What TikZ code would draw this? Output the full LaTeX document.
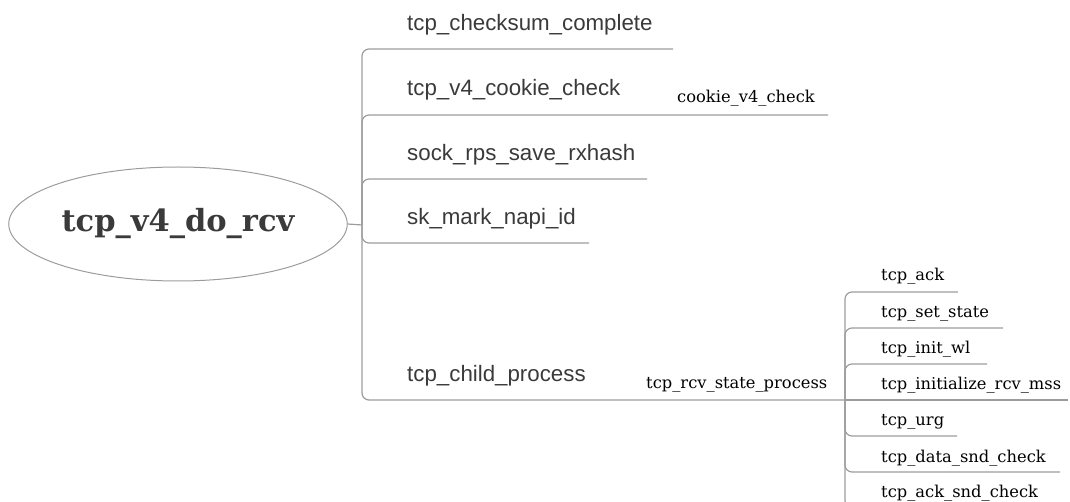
\documentclass[tikz,border=0pt]{standalone}
\usepackage{fontspec}
\setmainfont{Liberation Sans}
\newfontfamily\slabfont{DejaVu Serif}
\usetikzlibrary{shapes.geometric}
\definecolor{linegray}{HTML}{9C9C9C}
\definecolor{textgray}{HTML}{3A3A3A}
\tikzset{
  root/.style={ellipse, draw=linegray, line width=1pt, minimum width=336pt, minimum height=114pt,
    text=textgray, font=\slabfont\bfseries\fontsize{30.5}{34}\selectfont},
  branch/.style={anchor=base west, inner sep=0pt, text=textgray, font=\fontsize{22.3}{25}\selectfont},
  leaf/.style={anchor=base west, inner sep=0pt, text=black, font=\slabfont\fontsize{16.3}{18}\selectfont},
  link/.style={draw=linegray, line width=1.2pt, rounded corners=7pt},
}
\begin{document}
\begin{tikzpicture}[x=1pt, y=-1pt]
    \useasboundingbox (0,0) rectangle (1070,502);
    \clip (0,0) rectangle (1070,502);
    % root
    \node [root] (rcv) at (178,224) {tcp\_v4\_do\_rcv};
    \coordinate (hub) at (362,225);
    \draw [link] (rcv.east) -- (hub);
    % first level
    \node [branch] (csum) at (407,31) {tcp\_checksum\_complete};
    \node [branch] (cookie) at (407,96) {tcp\_v4\_cookie\_check};
    \node [branch] (rps) at (407,161) {sock\_rps\_save\_rxhash};
    \node [branch] (napi) at (407,225) {sk\_mark\_napi\_id};
    \node [branch] (child) at (407,381) {tcp\_child\_process};
    \coordinate (csumend) at (673,49);
    \coordinate (cookieend) at (828,115);
    \coordinate (rpsend) at (647,179);
    \coordinate (napiend) at (589,243);
    \draw [link] (hub) |- (csumend);
    \draw [link] (hub) |- (cookieend);
    \draw [link] (hub) |- (rpsend);
    \draw [link] (hub) |- (napiend);
    \node [leaf] (cv4) at (677,103) {cookie\_v4\_check};
    % tcp_child_process
    \node [leaf] (state) at (646,388) {tcp\_rcv\_state\_process};
    \coordinate (subhub) at (845,400);
    \draw [link] (hub) |- (subhub);
    \node [leaf] (ack) at (881,281) {tcp\_ack};
    \node [leaf] (setst) at (881,317) {tcp\_set\_state};
    \node [leaf] (initwl) at (881,353) {tcp\_init\_wl};
    \node [leaf] (mss) at (881,389) {tcp\_initialize\_rcv\_mss};
    \node [leaf] (urg) at (881,425) {tcp\_urg};
    \node [leaf] (datasnd) at (881,462) {tcp\_data\_snd\_check};
    \node [leaf] (acksnd) at (881,497) {tcp\_ack\_snd\_check};
    \coordinate (ackend) at (958,292);
    \coordinate (setstend) at (1003,328);
    \coordinate (initwlend) at (987,364);
    \coordinate (mssend) at (1068,400);
    \coordinate (urgend) at (957,436);
    \coordinate (datasndend) at (1060,472);
    \coordinate (acksndend) at (1040,508);
    \draw [link] (subhub) |- (ackend);
    \draw [link] (subhub) |- (setstend);
    \draw [link] (subhub) |- (initwlend);
    \draw [link] (subhub) -- (mssend);
    \draw [link] (subhub) |- (urgend);
    \draw [link] (subhub) |- (datasndend);
    \draw [link] (subhub) |- (acksndend);
\end{tikzpicture}
\end{document}
